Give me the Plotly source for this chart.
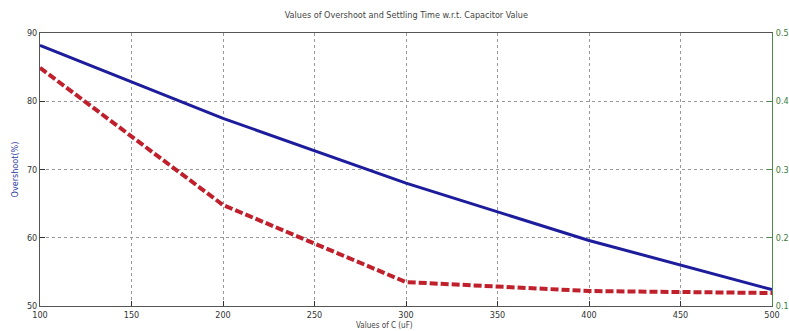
import plotly.graph_objects as go

capacitance = [100, 200, 300, 400, 500]
overshoot = [88.2, 77.5, 68.0, 59.6, 52.4]
settling_time = [0.449, 0.248, 0.135, 0.122, 0.119]

title_text = "Values of Overshoot and Settling Time w.r.t. Capacitor Value"
x_title = "Values of C (uF)"
y1_title = "Overshoot(%)"

fig = go.Figure()
fig.add_trace(go.Scatter(x=capacitance, y=overshoot, mode="lines",
                         line=dict(color="#1c1c9c", width=3), yaxis="y", showlegend=False))
fig.add_trace(go.Scatter(x=capacitance, y=settling_time, mode="lines",
                         line=dict(color="#c0202c", width=4, dash="8px,3px"), yaxis="y2", showlegend=False))

fig.update_layout(
    width=789, height=331,
    margin=dict(l=40, r=17, t=33, b=25, autoexpand=False),
    paper_bgcolor="white", plot_bgcolor="white",
    font=dict(family="DejaVu Sans Condensed, DejaVu Sans", size=9, color="#333"),
    title=dict(text=title_text, x=0.515, xanchor="center", y=0.955, yanchor="middle",
               font=dict(size=9, color="#444")),
    xaxis=dict(range=[100, 500], tickvals=[100, 150, 200, 250, 300, 350, 400, 450, 500],
               showgrid=True, gridcolor="#999", griddash="dot", gridwidth=1,
               showline=True, linecolor="#555", linewidth=1, mirror=True,
               ticks="inside", ticklen=5, tickcolor="#333", zeroline=False),
    yaxis=dict(range=[50, 90], tickvals=[50, 60, 70, 80, 90],
               showgrid=True, gridcolor="#999", griddash="dot", gridwidth=1,
               showline=True, linecolor="#555", linewidth=1,
               ticks="inside", ticklen=5, tickcolor="#333", zeroline=False,
               title=dict(text=y1_title, font=dict(size=9, color="#3040a0"), standoff=6)),
    yaxis2=dict(range=[0.1, 0.5], tickvals=[0.1, 0.2, 0.3, 0.4, 0.5],
                overlaying="y", side="right", showgrid=False,
                showline=True, linecolor="#4a8a4a", linewidth=1,
                ticks="inside", ticklen=5, tickcolor="#4a8a4a", ticklabelstandoff=1,
                tickfont=dict(color="#3a7a3a", size=9), zeroline=False),
    annotations=[dict(text=x_title, xref="paper", yref="paper", x=0.47, y=-0.0714,
                      xanchor="center", yanchor="middle", showarrow=False,
                      font=dict(size=8, color="#444"))],
)

fig.write_html("out.html", config={"displayModeBar": False},
               post_script="document.body.style.margin='0';document.body.style.overflow='hidden';")
